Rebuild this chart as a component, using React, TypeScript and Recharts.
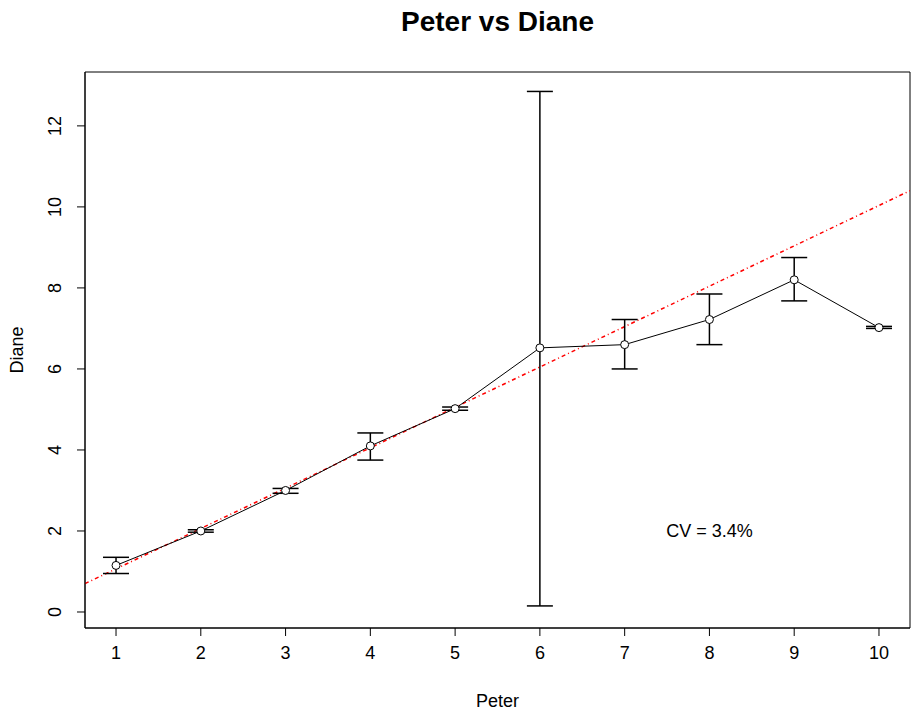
import {
  ComposedChart,
  Line,
  XAxis,
  YAxis,
  ErrorBar,
  ReferenceLine,
  ReferenceDot,
  ReferenceArea,
} from "recharts";

const peter = [1, 2, 3, 4, 5, 6, 7, 8, 9, 10];
const diane = [1.15, 2.0, 3.0, 4.1, 5.02, 6.52, 6.6, 7.22, 8.2, 7.02];
const lower = [0.95, 1.97, 2.93, 3.75, 4.98, 0.15, 6.0, 6.6, 7.68, 7.0];
const upper = [1.35, 2.03, 3.05, 4.42, 5.06, 12.85, 7.22, 7.85, 8.75, 7.05];

const xTicks = [1, 2, 3, 4, 5, 6, 7, 8, 9, 10];
const yTicks = [0, 2, 4, 6, 8, 10, 12];

const xDomain = [0.634, 10.366];
const yDomain = [-0.395, 13.33];

// fit line, read at the plot edges
const fitX = [0.634, 10.366];
const fitY = [0.7, 10.4];

const data = peter.map((p, i) => ({
  peter: p,
  diane: diane[i],
  err: [diane[i] - lower[i], upper[i] - diane[i]],
}));

const FONT = "'Liberation Sans', Arial, sans-serif";

function YTick(props: any) {
  const { x, y, payload } = props;
  return (
    <text
      x={x}
      y={y}
      transform={`rotate(-90 ${x} ${y})`}
      textAnchor="middle"
      fontSize={18}
      fontFamily={FONT}
      fill="#000"
    >
      {payload.value}
    </text>
  );
}

function Dot(props: any) {
  const { cx, cy } = props;
  if (cx == null || cy == null) return null;
  return <circle cx={cx} cy={cy} r={4} fill="#fff" stroke="#000" strokeWidth={1} />;
}

export default function App() {
  return (
    <div style={{ position: "absolute", left: 0, top: 0, width: 915, height: 717, background: "#fff" }}>
      <div
        style={{
          position: "absolute",
          left: 85,
          width: 825,
          top: 6,
          textAlign: "center",
          fontFamily: FONT,
          fontWeight: "bold",
          fontSize: 28,
          color: "#000",
        }}
      >
        Peter vs Diane
      </div>
      <ComposedChart
        width={915}
        height={717}
        data={data}
        margin={{ top: 72, right: 5, bottom: 0, left: 0 }}
      >
        <XAxis
          dataKey="peter"
          type="number"
          domain={xDomain}
          ticks={xTicks}
          allowDataOverflow
          height={89}
          tickLine={{ stroke: "#000" }}
          axisLine={{ stroke: "#000" }}
          tickSize={8}
          tickMargin={10}
          tick={{ fill: "#000", fontSize: 18, fontFamily: FONT }}
          label={{
            value: "Peter",
            position: "insideBottom",
            offset: 10,
            fill: "#000",
            fontSize: 18,
            fontFamily: FONT,
          }}
        />
        <YAxis
          type="number"
          domain={yDomain}
          ticks={yTicks}
          allowDataOverflow
          width={85}
          tickLine={{ stroke: "#000" }}
          axisLine={{ stroke: "#000" }}
          tickSize={8}
          tickMargin={16}
          tick={<YTick />}
          label={{
            content: (p: any) => {
              const vb = p.viewBox;
              const cy = vb.y + vb.height / 2;
              return (
                <text
                  x={23}
                  y={cy}
                  transform={`rotate(-90 23 ${cy})`}
                  textAnchor="middle"
                  fontSize={18}
                  fontFamily={FONT}
                  fill="#000"
                >
                  Diane
                </text>
              );
            },
          }}
        />
        <ReferenceArea
          x1={xDomain[0]}
          x2={xDomain[1]}
          y1={yDomain[0]}
          y2={yDomain[1]}
          fill="none"
          fillOpacity={0}
          stroke="#000"
          strokeWidth={1}
          ifOverflow="visible"
        />
        <ReferenceLine
          segment={[
            { x: fitX[0], y: fitY[0] },
            { x: fitX[1], y: fitY[1] },
          ]}
          stroke="#ff0000"
          strokeWidth={1.5}
          strokeDasharray="4 3 1 3"
          ifOverflow="hidden"
        />
        <Line
          dataKey="diane"
          stroke="#000"
          strokeWidth={1}
          dot={<Dot />}
          activeDot={false}
          isAnimationActive={false}
        >
          <ErrorBar dataKey="err" width={13} stroke="#000" strokeWidth={1.5} direction="y" />
        </Line>
        <ReferenceDot
          x={8}
          y={2}
          r={0}
          fill="none"
          stroke="none"
          label={{ value: "CV = 3.4%", position: "center", fill: "#000", fontSize: 18, fontFamily: FONT }}
        />
      </ComposedChart>
    </div>
  );
}
